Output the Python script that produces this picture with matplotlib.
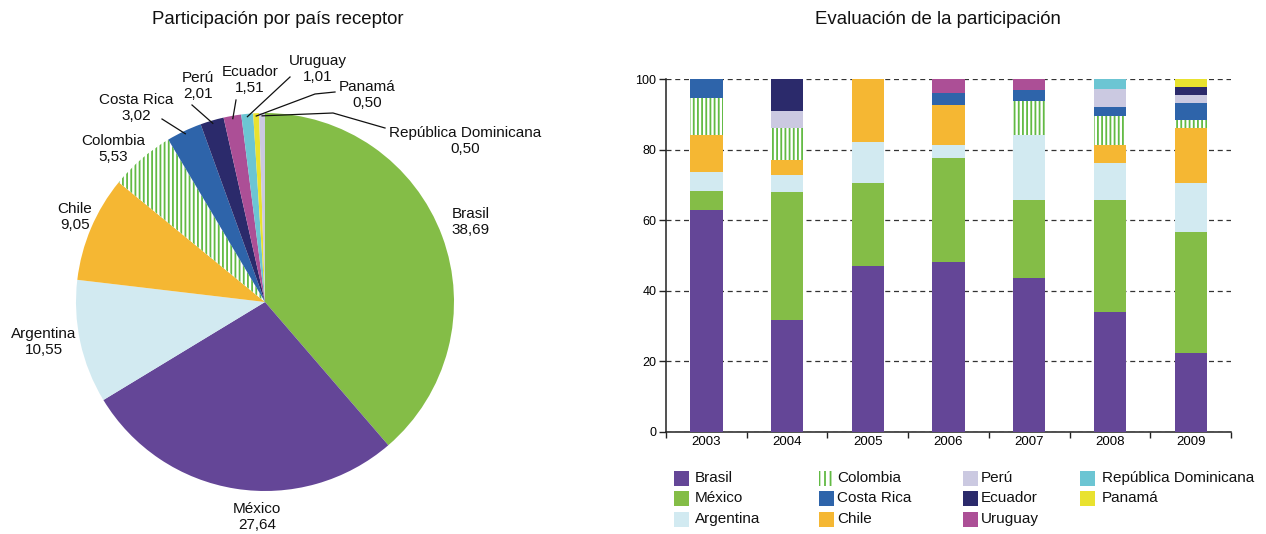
import numpy as np
import matplotlib
matplotlib.use("Agg")
import matplotlib.pyplot as plt
import matplotlib.patches as mpatches
from matplotlib.lines import Line2D

plt.rcParams["font.family"] = ["Liberation Sans", "DejaVu Sans"]
plt.rcParams["hatch.linewidth"] = 1.3

W, H = 1266, 534

# ── datos: participación por país receptor (torta) ─────────────
pie_countries = ["Brasil", "México", "Argentina", "Chile", "Colombia", "Costa Rica",
                 "Perú", "Ecuador", "Uruguay", "Panamá", "República Dominicana"]
pie_values = [38.69, 27.64, 10.55, 9.05, 5.53, 3.02, 2.01, 1.51, 1.01, 0.50, 0.50]
pie_labels = ["38,69", "27,64", "10,55", "9,05", "5,53", "3,02",
              "2,01", "1,51", "1,01", "0,50", "0,50"]

# ── datos: evaluación de la participación (barras apiladas, %) ─
years = ["2003", "2004", "2005", "2006", "2007", "2008", "2009"]
brasil = [62.9, 31.7, 47.0, 48.1, 43.6, 33.9, 22.3]
mexico = [5.3, 36.3, 23.5, 29.5, 22.1, 31.8, 34.3]
argentina = [5.4, 4.8, 11.7, 3.7, 18.4, 10.5, 13.9]
chile = [10.5, 4.2, 17.8, 11.3, 0.0, 5.1, 15.6]
colombia = [10.6, 9.2, 0.0, 0.0, 9.7, 8.2, 2.3]
costa_rica = [5.3, 0.0, 0.0, 3.4, 3.1, 2.6, 4.8]
peru = [0.0, 4.7, 0.0, 0.0, 0.0, 5.1, 2.3]
ecuador = [0.0, 9.1, 0.0, 0.0, 0.0, 0.0, 2.2]
uruguay = [0.0, 0.0, 0.0, 4.0, 3.1, 0.0, 0.0]
rep_dom = [0.0, 0.0, 0.0, 0.0, 0.0, 2.8, 0.0]
panama = [0.0, 0.0, 0.0, 0.0, 0.0, 0.0, 2.3]

# ── colores ────────────────────────────────────────────────────
C = {
    "Brasil": "#644697",
    "México": "#84bd47",
    "Argentina": "#d2eaf1",
    "Chile": "#f5b733",
    "Colombia": "#ffffff",
    "Costa Rica": "#2e64aa",
    "Perú": "#cbc9e1",
    "Ecuador": "#2b2a6b",
    "Uruguay": "#ac4f96",
    "República Dominicana": "#6cc5d3",
    "Panamá": "#e9e22f",
}
HATCH_GREEN = "#62ba44"

# colores de la torta (tal como aparecen en el original)
pie_colors = ["#84bd47", "#644697", "#d2eaf1", "#f5b733", "#ffffff", "#2e64aa",
              "#2b2a6b", "#ac4f96", "#6cc5d3", "#e9e22f", "#cbc9e1"]


def fpos(px, py):
    """pixel -> figure fraction"""
    return px / W, 1 - py / H


fig = plt.figure(figsize=(W / 100, H / 100), dpi=100, facecolor="white")

# ── torta ──────────────────────────────────────────────────────
cx, cy, R = 265, 302, 189
ax_pie = fig.add_axes([(cx - R) / W, 1 - (cy + R) / H, 2 * R / W, 2 * R / H])
wedges, _ = ax_pie.pie(pie_values, colors=pie_colors, startangle=90, counterclock=False,
                       radius=1, wedgeprops=dict(linewidth=0))
for w, name in zip(wedges, pie_countries):
    if name == "Colombia":
        w.set_hatch("||||")
        w.set_edgecolor(HATCH_GREEN)
        w.set_linewidth(0)
ax_pie.set_xlim(-1, 1)
ax_pie.set_ylim(-1, 1)
ax_pie.axis("off")


def pie_xy(px, py):
    return (px - cx) / R, (cy - py) / R


label_pos = {
    "Brasil": (471, 222), "México": (257, 517), "Argentina": (44, 342),
    "Chile": (75, 217), "Colombia": (113, 149), "Costa Rica": (136, 108),
    "Perú": (198, 86), "Ecuador": (250, 80), "Uruguay": (318, 69),
    "Panamá": (367, 95), "República Dominicana": (465, 141),
}
# puntos de inicio / quiebre de las líneas guía (pixeles)
leaders = {
    "Costa Rica": [(162, 119)],
    "Perú": [(192, 105)],
    "Ecuador": [(236, 100)],
    "Uruguay": [(290, 77)],
    "Panamá": [(335, 92), (315, 94)],
    "República Dominicana": [(385, 128), (333, 113)],
}

for w, name, lab in zip(wedges, pie_countries, pie_labels):
    lx, ly = pie_xy(*label_pos[name])
    ax_pie.text(lx, ly, f"{name}\n{lab}", ha="center", va="center", fontsize=11,
                linespacing=1.2, color="#111111", clip_on=False)
    if name in leaders:
        mid = np.deg2rad((w.theta1 + w.theta2) / 2)
        rim = (0.985 * np.cos(mid), 0.985 * np.sin(mid))
        pts = [pie_xy(*p) for p in leaders[name]] + [rim]
        xs, ys = zip(*pts)
        ax_pie.add_line(Line2D(xs, ys, color="#111111", lw=0.9, clip_on=False))

fig.text(*fpos(278, 20), "Participación por país receptor", ha="center", va="center",
         fontsize=13.4, color="#111111")

# ── barras apiladas ────────────────────────────────────────────
ax = fig.add_axes([666 / W, 1 - 432 / H, (1231 - 666) / W, (432 - 79) / H])
series = [
    ("Brasil", brasil), ("México", mexico), ("Argentina", argentina), ("Chile", chile),
    ("Colombia", colombia), ("Costa Rica", costa_rica), ("Perú", peru),
    ("Ecuador", ecuador), ("Uruguay", uruguay), ("República Dominicana", rep_dom),
    ("Panamá", panama),
]
x = np.arange(len(years))
bottom = np.zeros(len(years))
for name, vals in series:
    vals = np.array(vals)
    if name == "Colombia":
        ax.bar(x, vals, 0.4, bottom=bottom, color="white", edgecolor=HATCH_GREEN,
               hatch="||||", linewidth=0, zorder=3)
    else:
        ax.bar(x, vals, 0.4, bottom=bottom, color=C[name], linewidth=0, zorder=3)
    bottom += vals

ax.set_xlim(-0.5, len(years) - 0.5)
ax.set_ylim(0, 100)
ax.set_yticks([0, 20, 40, 60, 80, 100])
ax.yaxis.grid(True, color="#333333", linestyle=(0, (4, 3)), linewidth=0.9)
ax.set_axisbelow(True)
ax.set_xticks(x)
ax.set_xticklabels(years)
ax.set_xticks(np.arange(-0.5, len(years)), minor=True)
ax.tick_params(axis="x", which="major", length=0, labelsize=9.5, pad=3)
ax.tick_params(axis="x", which="minor", length=4, width=1, direction="out", color="#222222")
ax.tick_params(axis="y", length=5, width=1, labelsize=9, pad=2, color="#222222")
for s in ("top", "right"):
    ax.spines[s].set_visible(False)
for s in ("left", "bottom"):
    ax.spines[s].set_color("#222222")
    ax.spines[s].set_linewidth(1.1)

fig.text(*fpos(938, 20), "Evaluación de la participación", ha="center", va="center",
         fontsize=13.4, color="#111111")

# ── leyenda (manual, 4 columnas) ───────────────────────────────
legend_cols = [
    (674, 695, ["Brasil", "México", "Argentina"]),
    (819, 837, ["Colombia", "Costa Rica", "Chile"]),
    (963, 981, ["Perú", "Ecuador", "Uruguay"]),
    (1080, 1102, ["República Dominicana", "Panamá"]),
]
row_y = [478, 498, 519]
for mx, tx, names in legend_cols:
    for name, yy in zip(names, row_y):
        x0, y0 = fpos(mx, yy + 7.5)
        if name == "Colombia":
            patch = mpatches.Rectangle((x0, y0), 15 / W, 15 / H, transform=fig.transFigure,
                                       facecolor="white", edgecolor=HATCH_GREEN,
                                       hatch="|||", linewidth=0)
        else:
            patch = mpatches.Rectangle((x0, y0), 15 / W, 15 / H, transform=fig.transFigure,
                                       facecolor=C[name], linewidth=0)
        fig.add_artist(patch)
        fig.text(*fpos(tx, yy), name, ha="left", va="center", fontsize=11, color="#111111")

fig.savefig("out.png", dpi=100, facecolor="white")
